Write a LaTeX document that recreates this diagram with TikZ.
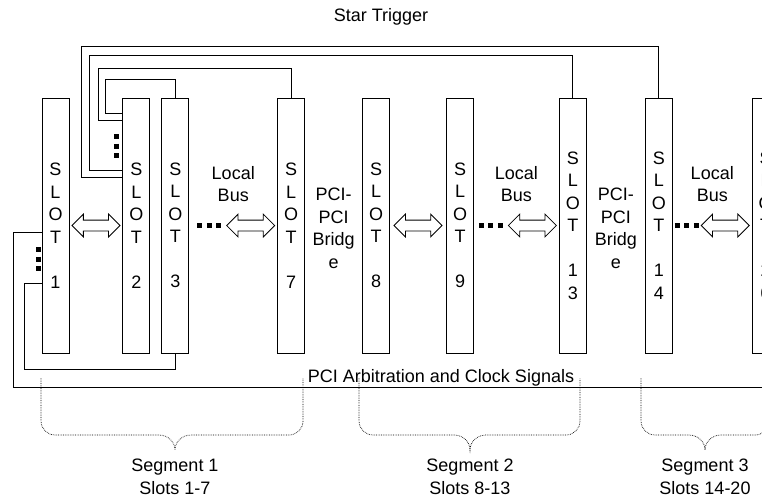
\documentclass[tikz,border=0pt]{standalone}
\usepackage{fontspec}
\setmainfont{Liberation Sans}
\usetikzlibrary{positioning, calc, shapes.arrows}

\begin{document}
\begin{tikzpicture}[
    x=1pt, y=-1pt,
    every node/.style={font=\fontsize{18}{22.5}\selectfont},
    slot/.style={rectangle, draw, line width=0.9pt, minimum width=27pt, minimum height=255pt, inner sep=0pt, align=center},
    busarrow/.style={double arrow, draw, line width=0.8pt, minimum width=22pt, minimum height=48pt, double arrow head extend=6pt, double arrow head indent=0pt, inner xsep=0pt, inner ysep=5pt},
    busdots/.style={line width=5pt, dash pattern=on 5pt off 4.5pt},
    wire/.style={line width=0.9pt},
    seg/.style={densely dotted, line width=0.7pt},
    txt/.style={align=center}
  ]
  \useasboundingbox (0,0) rectangle (762,496);
  \clip (0,0) rectangle (762,496);

  % slots
  \node[slot] (s1) at (55.5,225.5) {S\\L\\O\\T\\[22.5pt]1};
  \node[slot, right=53pt of s1] (s2) {S\\L\\O\\T\\[22.5pt]2};
  \node[slot, right=11pt of s2] (s3) {S\\L\\O\\T\\[22.5pt]3};
  \node[slot, right=88pt of s3] (s7) {S\\L\\O\\T\\[22.5pt]7};
  \node[slot, right=57pt of s7] (s8) {S\\L\\O\\T\\[22.5pt]8};
  \node[slot, right=56pt of s8] (s9) {S\\L\\O\\T\\[22.5pt]9};
  \node[slot, right=85pt of s9] (s13) {S\\L\\O\\T\\[22.5pt]1\\3};
  \node[slot, right=58pt of s13] (s14) {S\\L\\O\\T\\[22.5pt]1\\4};
  \node[slot, right=79pt of s14] (s20) {S\\L\\O\\T\\[22.5pt]2\\0};

  % local buses
  \node[busarrow] (b12) at ($(s1.east)!0.5!(s2.west)$) {};
  \node[busarrow, left=2pt of s7] (b37) {};
  \node[busarrow] (b89) at ($(s8.east)!0.5!(s9.west)$) {};
  \node[busarrow, left=2pt of s13] (b913) {};
  \node[busarrow, left=2pt of s20] (b1420) {};
  \draw[busdots, shorten <=8pt, shorten >=2pt] (s3) -- (b37);
  \draw[busdots, shorten <=5pt, shorten >=2pt] (s9) -- (b913);
  \draw[busdots, shorten <=2pt, shorten >=2pt] (s14) -- (b1420);
  \draw[busdots] (116.5,134) -- (116.5,160);
  \draw[busdots] (38,247) -- (38,273);

  \node[txt, yshift=41.5pt] (lb1) at ($(s3.east)!0.5!(s7.west)$) {Local\\Bus};
  \node[txt, yshift=41.5pt] (lb2) at ($(s9.east)!0.5!(s13.west)$) {Local\\Bus};
  \node[txt, yshift=41.5pt] (lb3) at ($(s14.east)!0.5!(s20.west)$) {Local\\Bus};
  \node[txt, yshift=-3pt] (br1) at ($(s7.east)!0.5!(s8.west)$) {PCI-\\PCI\\Bridg\\e};
  \node[txt, yshift=-3pt] (br2) at ($(s13.east)!0.5!(s14.west)$) {PCI-\\PCI\\Bridg\\e};

  % star trigger
  \node (startrig) at (381,17) {Star Trigger};
  \draw[wire] ([yshift=-16pt]s2.north west) -| (105,79) -| (s3.north);
  \draw[wire] ([yshift=-23pt]s2.north west) -| (98,68) -| (s7.north);
  \draw[wire] ([yshift=-73pt]s2.north west) -| (89,55) -| (s13.north);
  \draw[wire] ([yshift=-80pt]s2.north west) -| (81,46) -| (s14.north);

  % arbitration and clock
  \draw[wire] ([yshift=-186pt]s1.north west) -| (24,369) -| (s3.south);
  \draw[wire] ([yshift=-135pt]s1.north west) -| (13,387) -| (s20.south);
  \node[anchor=base] (arb) at (441,382) {PCI Arbitration and Clock Signals};

  % segments
  \draw[seg] (41,378) -- (41,421) to[out=-90,in=180] (55,435) -- (159,435) to[out=0,in=90] (175,450)
    to[out=90,in=180] (191,435) -- (289,435) to[out=0,in=-90] (303,421) -- (303,378);
  \draw[seg] (359,378) -- (359,421) to[out=-90,in=180] (373,435) -- (454,435) to[out=0,in=90] (470,450)
    to[out=90,in=180] (486,435) -- (566,435) to[out=0,in=-90] (580,421) -- (580,378);
  \draw[seg] (641,378) -- (641,421) to[out=-90,in=180] (655,435) -- (689,435) to[out=0,in=90] (705,450)
    to[out=90,in=180] (721,435) -- (755,435) to[out=0,in=-90] (769,421) -- (769,378);
  \node[txt] (seg1) at (175,477) {Segment 1\\Slots 1-7};
  \node[txt] (seg2) at (470,477) {Segment 2\\Slots 8-13};
  \node[txt] (seg3) at (705,477) {Segment 3\\Slots 14-20};
\end{tikzpicture}
\end{document}
